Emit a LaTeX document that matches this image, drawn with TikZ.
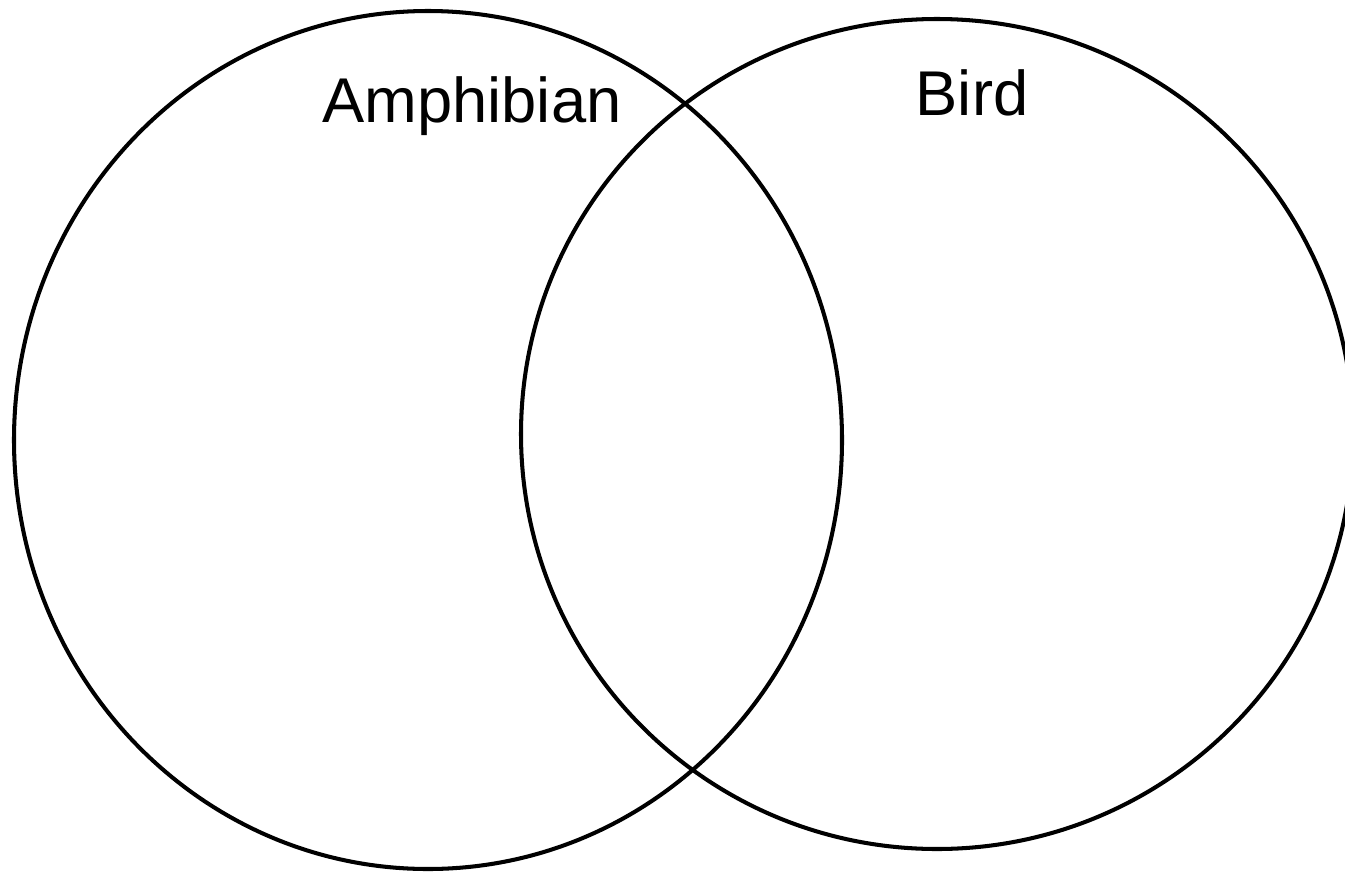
\documentclass[tikz,border=0pt]{standalone}
\usepackage{fontspec}
\setmainfont{Liberation Sans}
\usetikzlibrary{positioning}
\tikzset{setline/.style={draw=black,line width=2.3pt},
    setname/.style={font=\fontsize{36}{40}\selectfont,anchor=base,inner sep=0pt}}

\begin{document}
\begin{tikzpicture}[x=0.02cm,y=-0.02cm]
        \useasboundingbox (0,0) rectangle (1345,872);
        \clip (0,0) rectangle (1345,872);
        \coordinate (amphc) at (428,440);
        \coordinate (birdc) at (937,434);
        \draw[setline] (amphc) ellipse [x radius=414, y radius=429];
        \draw[setline] (birdc) ellipse [x radius=416, y radius=415];
        \node[setname] (amph) at (472,122) {Amphibian};
        \node[setname] (bird) at (972,115) {Bird};
    \end{tikzpicture}
\end{document}
